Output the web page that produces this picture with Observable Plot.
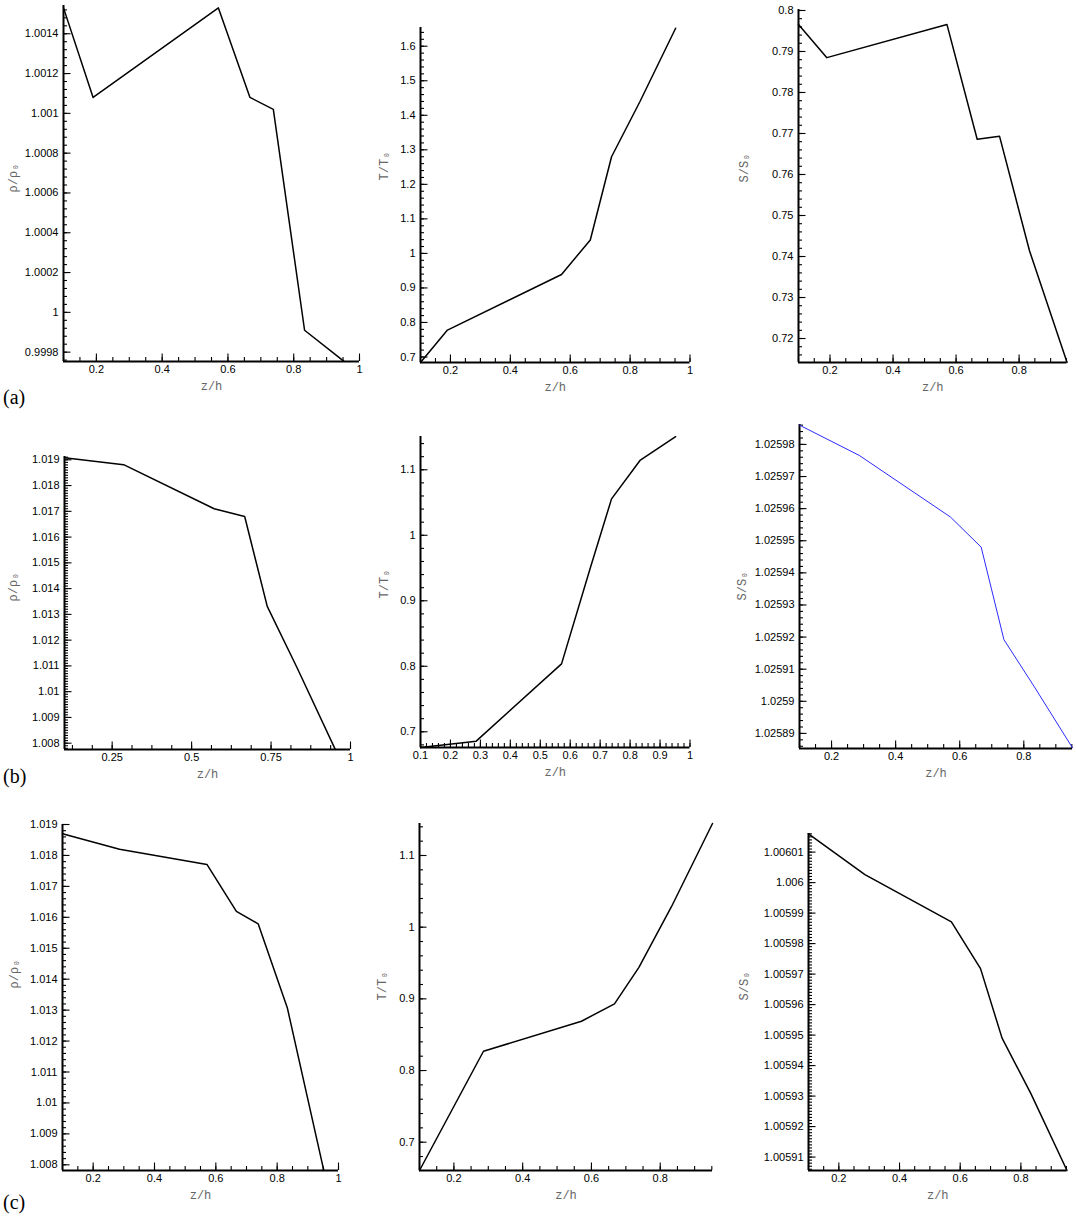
<!DOCTYPE html>
<html>
<head>
<meta charset="utf-8">
<script src="https://cdn.jsdelivr.net/npm/d3@7"></script>
<script src="https://cdn.jsdelivr.net/npm/@observablehq/plot@0.6"></script>
<style>
  body { margin: 0; background: #fff; }
  #fig { position: relative; width: 1076px; height: 1216px; overflow: hidden; background: #fff; }
  #fig svg { position: absolute; overflow: visible; }
  .tag { position: absolute; font-family: "Liberation Serif", "Times New Roman", serif; font-size: 20px; line-height: 20px; color: #000; }
</style>
</head>
<body>
<div id="fig"></div>
<script>
// Height coordinate z/h of the sampled profile points
const zA  = [0.1, 0.19, 0.571, 0.667, 0.738, 0.833, 0.952];
const zBC = [0.1, 0.286, 0.571, 0.667, 0.738, 0.833, 0.952];

// Case (a): density, temperature and S ratios
const rhoA  = [1.00153, 1.00108, 1.00153, 1.00108, 1.00102, 0.99991, 0.999755];
const tempA = [0.684, 0.778, 0.939, 1.039, 1.28, 1.44, 1.652];
const sA    = [0.7966, 0.7885, 0.7966, 0.7686, 0.7693, 0.7414, 0.7142];

// Case (b)
const rhoB  = [1.01908, 1.01881, 1.0171, 1.0168, 1.01331, 1.0109, 1.00776];
const tempB = [0.676, 0.6857, 0.8037, 0.95, 1.0556, 1.1142, 1.1505];
const sB    = [1.025986, 1.0259766, 1.0259574, 1.025948, 1.0259192, 1.0259045, 1.0258855];

// Case (c)
const rhoC  = [1.0187, 1.0182, 1.01771, 1.01619, 1.01579, 1.01308, 1.00782];
const tempC = [0.6605, 0.8269, 0.8688, 0.893, 0.944, 1.0289, 1.1446];
const sC    = [1.006016, 1.0060026, 1.0059871, 1.0059718, 1.005949, 1.0059308, 1.0059056];

// Tick labels
const xTicksFull    = ["0.2", "0.4", "0.6", "0.8", "1"];
const xTicksShort   = ["0.2", "0.4", "0.6", "0.8"];
const xTicksQuarter = ["0.25", "0.5", "0.75", "1"];
const xTicksTenth   = ["0.1", "0.2", "0.3", "0.4", "0.5", "0.6", "0.7", "0.8", "0.9", "1"];
const rhoATicks  = ["0.9998", "1", "1.0002", "1.0004", "1.0006", "1.0008", "1.001", "1.0012", "1.0014"];
const tempATicks = ["0.7", "0.8", "0.9", "1", "1.1", "1.2", "1.3", "1.4", "1.5", "1.6"];
const sATicks    = ["0.72", "0.73", "0.74", "0.75", "0.76", "0.77", "0.78", "0.79", "0.8"];
const rhoBTicks  = ["1.008", "1.009", "1.01", "1.011", "1.012", "1.013", "1.014", "1.015", "1.016", "1.017", "1.018", "1.019"];
const tempBTicks = ["0.7", "0.8", "0.9", "1", "1.1"];
const sBTicks    = ["1.02589", "1.0259", "1.02591", "1.02592", "1.02593", "1.02594", "1.02595", "1.02596", "1.02597", "1.02598"];
const rhoCTicks  = rhoBTicks;
const tempCTicks = tempBTicks;
const sCTicks    = ["1.00591", "1.00592", "1.00593", "1.00594", "1.00595", "1.00596", "1.00597", "1.00598", "1.00599", "1.006", "1.00601"];

// Axis titles and panel tags
const rhoLabel = "ρ/ρ₀", tempLabel = "T/T₀", sLabel = "S/S₀", zLabel = "z/h";
const tags = ["(a)", "(b)", "(c)"];

// Panel placement on the page (frame edges in px) and scale settings
const panels = [
  {l: 63,    r: 359,  t: 5,   b: 361,  xDom: [0.1, 1],     yDom: [0.999753, 1.001542],   xTicks: xTicksFull,    xMinor: 0.05,   yTicks: rhoATicks,  yMinor: 0.00004, z: zA,  v: rhoA,  label: rhoLabel,  lx: 13,  ly: 192},
  {l: 419.5, r: 689,  t: 27,  b: 362,  xDom: [0.1, 1],     yDom: [0.6841, 1.6542],       xTicks: xTicksFull,    xMinor: 0.05,   yTicks: tempATicks, yMinor: 0.02,    z: zA,  v: tempA, label: tempLabel, lx: 383, ly: 180},
  {l: 797.5, r: 1066, t: 9,   b: 362,  xDom: [0.1, 0.952], yDom: [0.71415, 0.80024],     xTicks: xTicksShort,   xMinor: 0.05,   yTicks: sATicks,    yMinor: 0.002,   z: zA,  v: sA,    label: sLabel,    lx: 743, ly: 182},
  {l: 64,    r: 350,  t: 456, b: 749,  xDom: [0.1, 1],     yDom: [1.007755, 1.019128],   xTicks: xTicksQuarter, xMinor: 0.0625, yTicks: rhoBTicks,  yMinor: 0.0001,  z: zBC, v: rhoB,  label: rhoLabel,  lx: 13,  ly: 601},
  {l: 419.5, r: 689,  t: 436, b: 747,  xDom: [0.1, 1],     yDom: [0.676, 1.1508],        xTicks: xTicksTenth,   xMinor: 0.02,   yTicks: tempBTicks, yMinor: 0.02,    z: zBC, v: tempB, label: tempLabel, lx: 383, ly: 598},
  {l: 799,   r: 1072, t: 424, b: 748,  xDom: [0.1, 0.952], yDom: [1.0258853, 1.0259862], xTicks: xTicksShort,   xMinor: 0.05,   yTicks: sBTicks,    yMinor: 0.000002,z: zBC, v: sB,    label: sLabel,    lx: 742, ly: 600, color: "#2a2aff", width: 1},
  {l: 62,    r: 338,  t: 824, b: 1170, xDom: [0.1, 1],     yDom: [1.007816, 1.019],      xTicks: xTicksFull,    xMinor: 0.05,   yTicks: rhoCTicks,  yMinor: 0.0002,  z: zBC, v: rhoC,  label: rhoLabel,  lx: 14,  ly: 988},
  {l: 419,   r: 712,  t: 823, b: 1170, xDom: [0.1, 0.952], yDom: [0.66052, 1.14464],     xTicks: xTicksShort,   xMinor: 0.05,   yTicks: tempCTicks, yMinor: 0.02,    z: zBC, v: tempC, label: tempLabel, lx: 382, ly: 1000},
  {l: 807.5, r: 1066, t: 833, b: 1170, xDom: [0.1, 0.952], yDom: [1.0059056, 1.0060161], xTicks: xTicksShort,   xMinor: 0.05,   yTicks: sCTicks,    yMinor: 0.000001,z: zBC, v: sC,    label: sLabel,    lx: 743, ly: 1000}
];
const tagTops = [387, 766, 1192];

const fig = document.getElementById("fig");
const tickFont = "'Liberation Sans', Arial, Helvetica, sans-serif";
const titleFont = "'Liberation Mono', 'DejaVu Sans Mono', monospace";

// multiples of step inside a domain, used for the short minor ticks
function minorTicks([lo, hi], step) {
  const i0 = Math.ceil(lo / step - 1e-6), i1 = Math.floor(hi / step + 1e-6);
  return d3.range(i0, i1 + 1).map(i => i * step);
}

const ML = 80, MR = 14, MT = 8, MB = 44;

for (const p of panels) {
  const fw = p.r - p.l, fh = p.b - p.t;
  const xMajor = p.xTicks.map(Number);
  const yMajor = p.yTicks.map(Number);
  const rows = p.z.map((z, i) => ({z, v: p.v[i]}));
  const tick = {stroke: "#000", strokeWidth: 1.1};
  const svg = Plot.plot({
    width: fw + ML + MR,
    height: fh + MT + MB,
    marginLeft: ML, marginRight: MR, marginTop: MT, marginBottom: MB,
    style: {background: "transparent", overflow: "visible"},
    x: {domain: p.xDom},
    y: {domain: p.yDom},
    marks: [
      // inward ticks along the bottom and left edges
      Plot.ruleX(minorTicks(p.xDom, p.xMinor), {...tick, insetTop: fh - 4}),
      Plot.ruleX(xMajor, {...tick, insetTop: fh - 7.5}),
      Plot.ruleY(minorTicks(p.yDom, p.yMinor), {...tick, insetRight: fw - 4}),
      Plot.ruleY(yMajor, {...tick, insetRight: fw - 7.5}),
      // axis lines
      Plot.ruleY([p.yDom[0]], {stroke: "#000", strokeWidth: 2}),
      Plot.ruleX([p.xDom[0]], {stroke: "#000", strokeWidth: 2}),
      // profile
      Plot.line(rows, {x: "z", y: "v", stroke: p.color || "#000", strokeWidth: p.width || 1.5}),
      // tick labels
      Plot.axisX(xMajor, {tickSize: 0, tickPadding: 4, tickFormat: d => String(d), fontSize: 11, fontFamily: tickFont, fill: "#000", label: null}),
      Plot.axisY(yMajor, {tickSize: 0, tickPadding: 5, tickFormat: d => String(d), fontSize: 11, fontFamily: tickFont, fill: "#000", label: null}),
      // axis titles
      Plot.text([zLabel], {text: d => d, frameAnchor: "bottom", dy: 28, fontSize: 12, fontFamily: titleFont, fill: "#666"}),
      Plot.text([p.label], {text: d => d, frameAnchor: "left", dx: p.lx - p.l, dy: p.ly - (p.t + p.b) / 2, rotate: -90, fontSize: 12, fontFamily: titleFont, fill: "#666"})
    ]
  });
  svg.style.left = (p.l - ML) + "px";
  svg.style.top = (p.t - MT) + "px";
  svg.style.maxWidth = "none";
  fig.appendChild(svg);
}

tags.forEach((t, i) => {
  const d = document.createElement("div");
  d.className = "tag";
  d.textContent = t;
  d.style.left = "3px";
  d.style.top = tagTops[i] + "px";
  fig.appendChild(d);
});
</script>
</body>
</html>
